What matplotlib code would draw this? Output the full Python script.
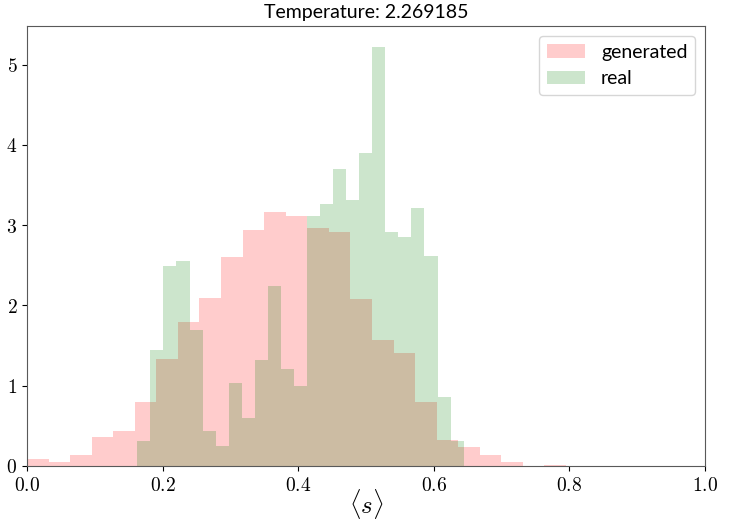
import matplotlib
matplotlib.use("Agg")
import matplotlib.pyplot as plt
from matplotlib.ticker import FuncFormatter
import numpy as np

plt.rcParams['mathtext.fontset'] = 'cm'
plt.rcParams['font.family'] = ['Lato', 'DejaVu Sans']

temperature = "2.269185"

# histogram bins (density)
gen_edges = np.linspace(0.0, 0.795, 26)
gen_heights = [0.083, 0.054, 0.137, 0.367, 0.437, 0.80, 1.33, 1.80, 2.09, 2.60,
               2.94, 3.17, 3.11, 2.97, 2.92, 2.08, 1.57, 1.41, 0.80, 0.33,
               0.24, 0.137, 0.05, 0.0, 0.015]

real_edges = np.linspace(0.1627, 0.644, 26)
real_heights = [0.31, 1.44, 2.49, 2.56, 1.70, 0.43, 0.25, 1.04, 0.60, 1.32,
                2.24, 1.21, 1.00, 3.11, 3.26, 3.70, 3.32, 3.90, 5.22, 2.92,
                2.85, 3.21, 2.62, 0.86, 0.31]

fig = plt.figure(figsize=(7.33, 5.23), dpi=100)
ax = fig.add_axes([0.0368, 0.109, 0.925, 0.841])

ax.hist(gen_edges[:-1], bins=gen_edges, weights=gen_heights,
        color='r', alpha=0.2, label='generated')
ax.hist(real_edges[:-1], bins=real_edges, weights=real_heights,
        color='g', alpha=0.2, label='real')

ax.set_xlim(0, 1)
ax.set_ylim(0, 5.48)
ax.xaxis.set_major_formatter(FuncFormatter(lambda v, p: r'$%.1f$' % v))
ax.yaxis.set_major_formatter(FuncFormatter(lambda v, p: r'$%d$' % round(v)))
ax.tick_params(labelsize=14)
for s in ax.spines.values():
    s.set_edgecolor('0.35')

ax.set_title('Temperature: ' + temperature, fontsize=14)
ax.set_xlabel(r'$\langle s \rangle$', fontsize=18, labelpad=-5)
ax.legend(loc='upper right', fontsize=14)

fig.savefig('out.png')
